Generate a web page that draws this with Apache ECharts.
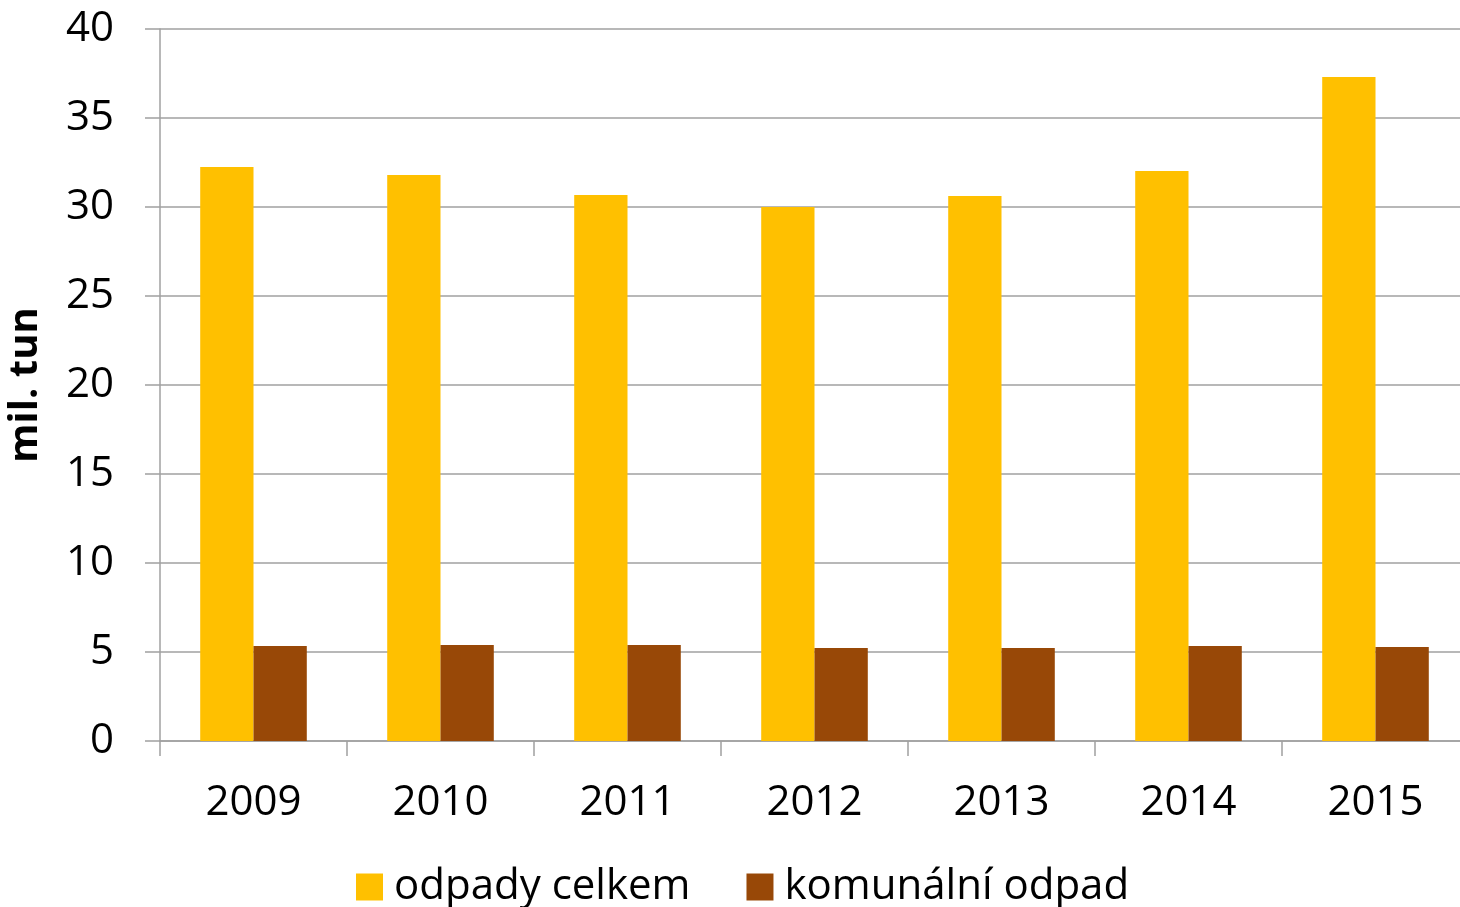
<!DOCTYPE html>
<html><head><meta charset="utf-8">
<script src="https://cdn.jsdelivr.net/npm/echarts@6/dist/echarts.min.js"></script>
<style>html,body{margin:0;padding:0;background:#fff}#c{width:1460px;height:907px}</style>
</head><body><div id="c"></div>
<script>
const years = ['2009','2010','2011','2012','2013','2014','2015'];
const odpadyCelkem = [32.25, 31.8, 30.67, 30.0, 30.62, 32.02, 37.3];
const komunalniOdpad = [5.34, 5.39, 5.39, 5.22, 5.22, 5.34, 5.28];
const seriesNames = ['odpady celkem', 'komunální odpad'];
const yAxisName = 'mil. tun';

const font = '"Open Sans", sans-serif';
const chart = echarts.init(document.getElementById('c'));
chart.setOption({
  animation: false,
  backgroundColor: '#fff',
  grid: { left: 160, top: 29, width: 1309, bottom: 166, outerBoundsMode: 'none', containLabel: false },
  legend: {
    data: seriesNames,
    top: 861, left: 351,
    itemWidth: 27, itemHeight: 27, itemGap: 56,
    icon: 'rect',
    textStyle: { fontFamily: font, fontSize: 42, color: '#000', padding: [0,0,0,6] }
  },
  xAxis: {
    type: 'category', data: years,
    axisLine: { lineStyle: { color: '#A0A0A0', width: 1.5 } },
    axisTick: { show: true, length: 15, lineStyle: { color: '#A0A0A0', width: 1.5 } },
    axisLabel: { fontFamily: font, fontSize: 42, color: '#000', margin: 41 }
  },
  yAxis: {
    type: 'value', min: 0, max: 40, interval: 5,
    name: yAxisName, nameLocation: 'middle', nameGap: 114, nameRotate: 90,
    nameTextStyle: { fontFamily: font, fontSize: 40, fontWeight: 'bold', color: '#000' },
    axisLine: { show: true, lineStyle: { color: '#A0A0A0', width: 1.5 } },
    axisTick: { show: true, length: 15, lineStyle: { color: '#A0A0A0', width: 1.5 } },
    splitLine: { lineStyle: { color: '#A0A0A0', width: 1.5 } },
    axisLabel: { fontFamily: font, fontSize: 42, color: '#000', margin: 46 }
  },
  series: [
    { name: seriesNames[0], type: 'bar', data: odpadyCelkem, barGap: '0%', barCategoryGap: '43%',
      itemStyle: { color: '#FFC000' } },
    { name: seriesNames[1], type: 'bar', data: komunalniOdpad, barGap: '0%', barCategoryGap: '43%',
      itemStyle: { color: '#984807' } }
  ]
});
</script></body></html>
